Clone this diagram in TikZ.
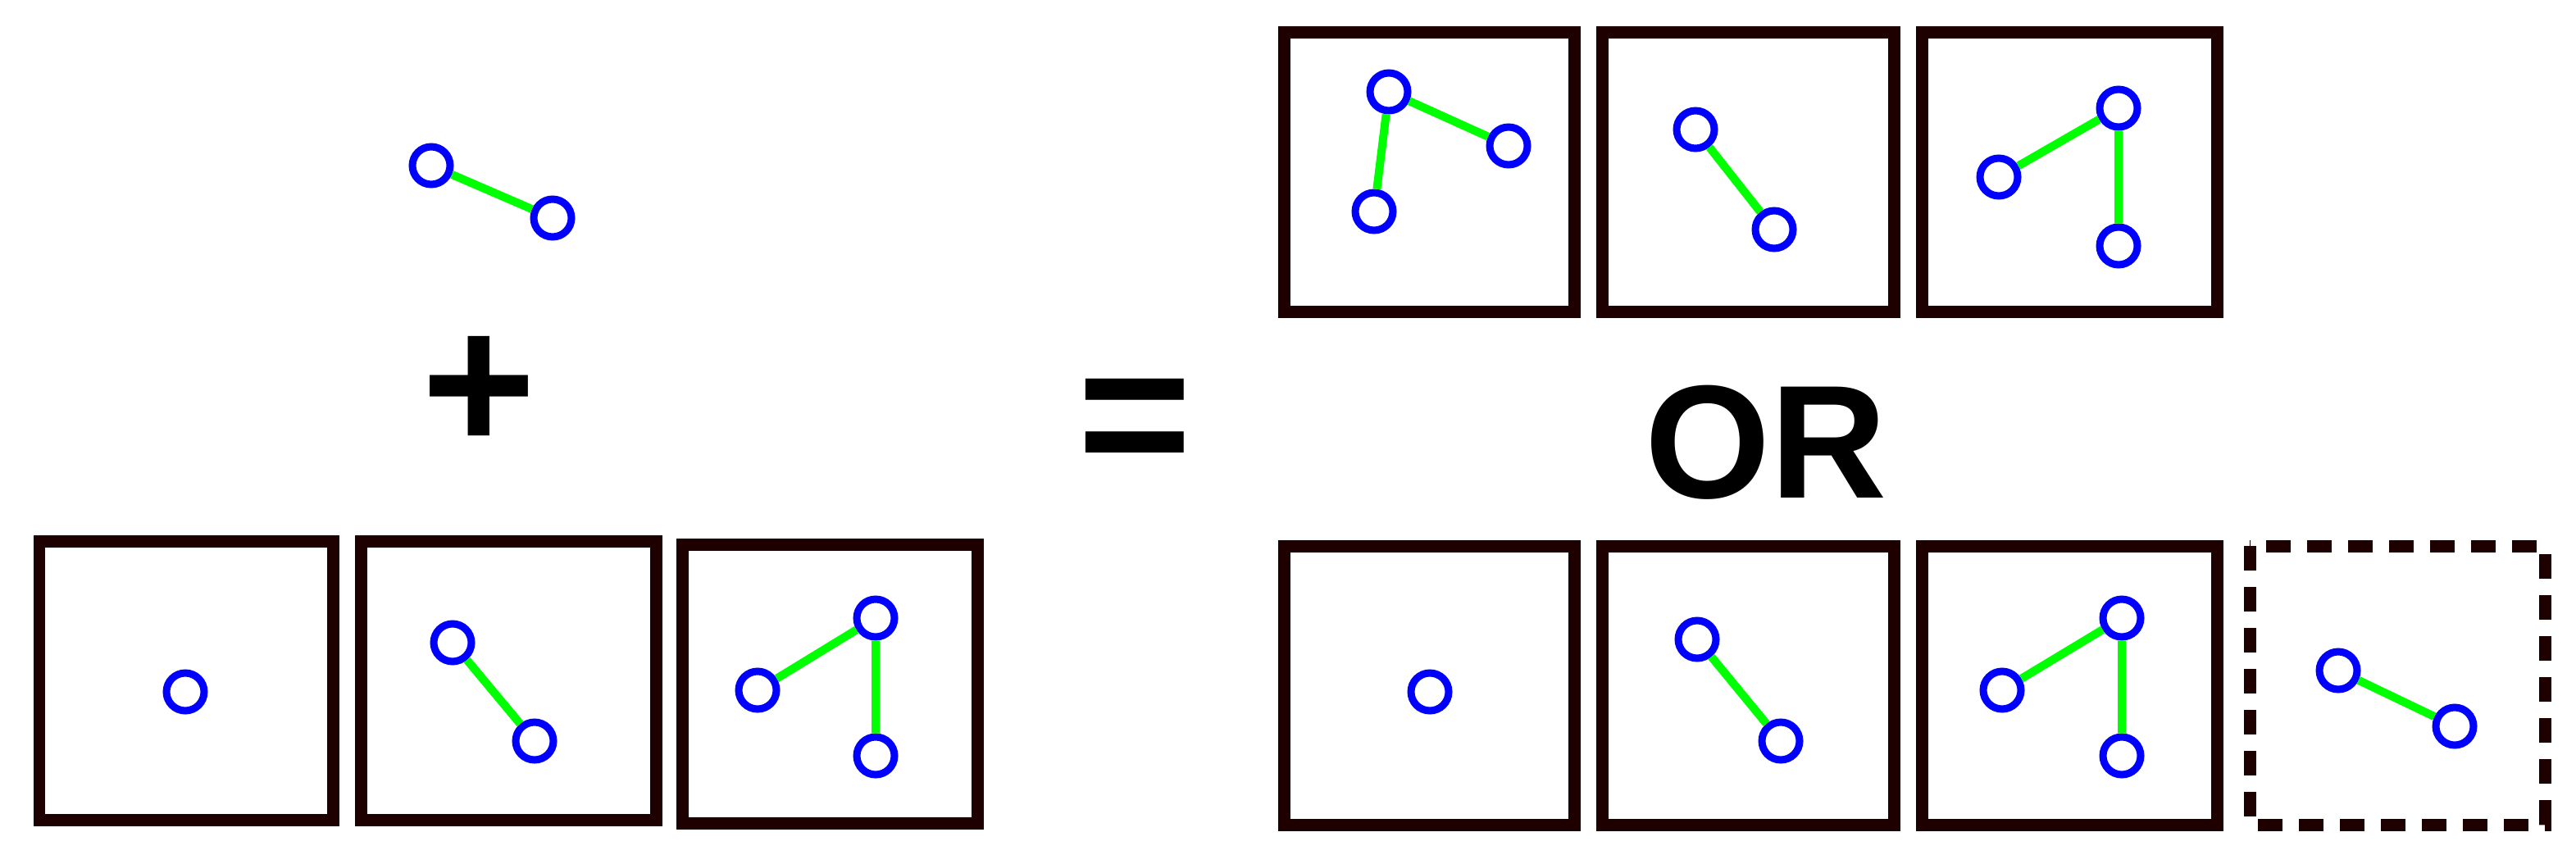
\documentclass[tikz,border=0pt]{standalone}
\usepackage{fontspec}
\setmainfont{Liberation Sans}
\begin{document}
\begin{tikzpicture}[x=0.02cm,y=-0.02cm,
  atm/.style={circle,draw=blue,line width=0.09cm,minimum size=0.46cm,inner sep=0pt,fill=white},
  bd/.style={draw=green,line width=0.1cm},
  box/.style={draw=black!80!red!60!black,line width=0.15cm},
  dbox/.style={box,dash pattern=on 0.3cm off 0.2cm}]
\useasboundingbox (0,0) rectangle (1571,527);
% top-left molecule
\node[atm] (m1) at (263,101) {}; \node[atm] (m2) at (337,133) {};
\draw[bd] (m1) -- (m2);
\node (plus) at (292,240) {\fontsize{68}{68}\selectfont\bfseries +};
\node (eq) at (692,262) {\fontsize{68}{68}\selectfont\bfseries =};
\node (or) at (1077,270) {\fontsize{56}{56}\selectfont\bfseries OR};
% bottom-left boxes
\draw[box] (24,330) rectangle (203,500);
\draw[box] (220,330) rectangle (400,500);
\draw[box] (416,332) rectangle (596,502);
\node[atm] (a1) at (113,422) {};
\node[atm] (b1) at (276,392) {}; \node[atm] (b2) at (326,452) {};
\draw[bd] (b1) -- (b2);
\node[atm] (c1) at (462,421) {}; \node[atm] (c2) at (534,377) {}; \node[atm] (c3) at (534,461) {};
\draw[bd] (c1) -- (c2) (c2) -- (c3);
% top-right boxes
\draw[box] (783,20) rectangle (960,190);
\draw[box] (977,20) rectangle (1155,190);
\draw[box] (1172,20) rectangle (1352,190);
\node[atm] (d1) at (847,56) {}; \node[atm] (d2) at (920,89) {}; \node[atm] (d3) at (838,129) {};
\draw[bd] (d1) -- (d2) (d1) -- (d3);
\node[atm] (e1) at (1034,79) {}; \node[atm] (e2) at (1082,140) {};
\draw[bd] (e1) -- (e2);
\node[atm] (f1) at (1219,108) {}; \node[atm] (f2) at (1292,66) {}; \node[atm] (f3) at (1292,150) {};
\draw[bd] (f1) -- (f2) (f2) -- (f3);
% bottom-right boxes
\draw[box] (783,333) rectangle (960,503);
\draw[box] (977,333) rectangle (1155,503);
\draw[box] (1172,333) rectangle (1352,503);
\draw[dbox] (1372,333) rectangle (1552,503);
\node[atm] (g1) at (872,422) {};
\node[atm] (h1) at (1035,390) {}; \node[atm] (h2) at (1086,452) {};
\draw[bd] (h1) -- (h2);
\node[atm] (i1) at (1221,421) {}; \node[atm] (i2) at (1294,377) {}; \node[atm] (i3) at (1294,461) {};
\draw[bd] (i1) -- (i2) (i2) -- (i3);
\node[atm] (j1) at (1426,409) {}; \node[atm] (j2) at (1497,443) {};
\draw[bd] (j1) -- (j2);
\end{tikzpicture}
\end{document}
